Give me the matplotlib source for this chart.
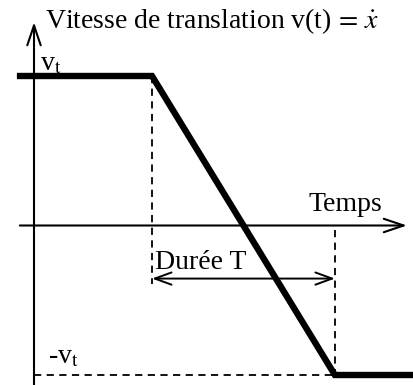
import matplotlib
matplotlib.use("Agg")
import matplotlib.pyplot as plt

# velocity profile (time in arbitrary units, velocity normalised by v_t)
v_t = 1.0
t_start = 1.0      # start of deceleration
T = 1.55           # duration of the ramp
t_end_plot = 3.25

profile_t = [-0.145, t_start, t_start + T, t_end_plot]
profile_v = [v_t, v_t, -v_t, -v_t]

plt.rcParams['font.family'] = ['Liberation Serif', 'DejaVu Serif']
plt.rcParams['mathtext.fontset'] = 'stix'

fig = plt.figure(figsize=(4.14, 3.85), dpi=100)
ax = fig.add_axes([0, 0, 1, 1])
ax.set_xlim(-34 / 118, 380 / 118)
ax.set_ylim(-159.5 / 149.5, 225.5 / 149.5)
ax.axis('off')

# axes with arrows
head = '->,head_length=0.65,head_width=0.22'
ax.annotate('', xy=(0, 1.36), xytext=(0, -1.1),
            arrowprops=dict(arrowstyle=head, lw=1.5, mutation_scale=22, color='black',
                            shrinkA=0, shrinkB=0))
ax.annotate('', xy=(3.16, 0), xytext=(-0.12, 0),
            arrowprops=dict(arrowstyle=head, lw=1.5, mutation_scale=22, color='black',
                            shrinkA=0, shrinkB=0))

# guide lines
dash = dict(color='black', lw=1.3, linestyle=(0, (4, 3)))
ax.plot([t_start, t_start], [v_t, -0.39], **dash)
ax.plot([t_start + T, t_start + T], [-0.03, -v_t], **dash)
ax.plot([0, t_start + T], [-v_t, -v_t], **dash)

# the profile
ax.plot(profile_t, profile_v, color='black', lw=4.6, solid_capstyle='butt',
        solid_joinstyle='miter')

# duration arrow
ax.annotate('', xy=(t_start + T, -0.355), xytext=(t_start, -0.355),
            arrowprops=dict(arrowstyle='<->,head_length=0.6,head_width=0.22', lw=1.4,
                            mutation_scale=20, color='black', shrinkA=0, shrinkB=0))

fs = 20
ax.text(0.093, 1.318, r'Vitesse de translation v(t)$\,=\,\dot{x}$', fontsize=fs,
        va='baseline', ha='left')
ax.text(0.05, 1.0, r'v$_\mathrm{t}$', fontsize=fs, va='bottom', ha='left')
ax.text(0.115, -0.96, r'-v$_\mathrm{t}$', fontsize=fs, va='bottom', ha='left')
ax.text(2.33, 0.10, 'Temps', fontsize=fs, va='baseline', ha='left')
ax.text(1.025, -0.29, 'Durée T', fontsize=fs, va='baseline', ha='left')

fig.savefig('out.png', dpi=100)
